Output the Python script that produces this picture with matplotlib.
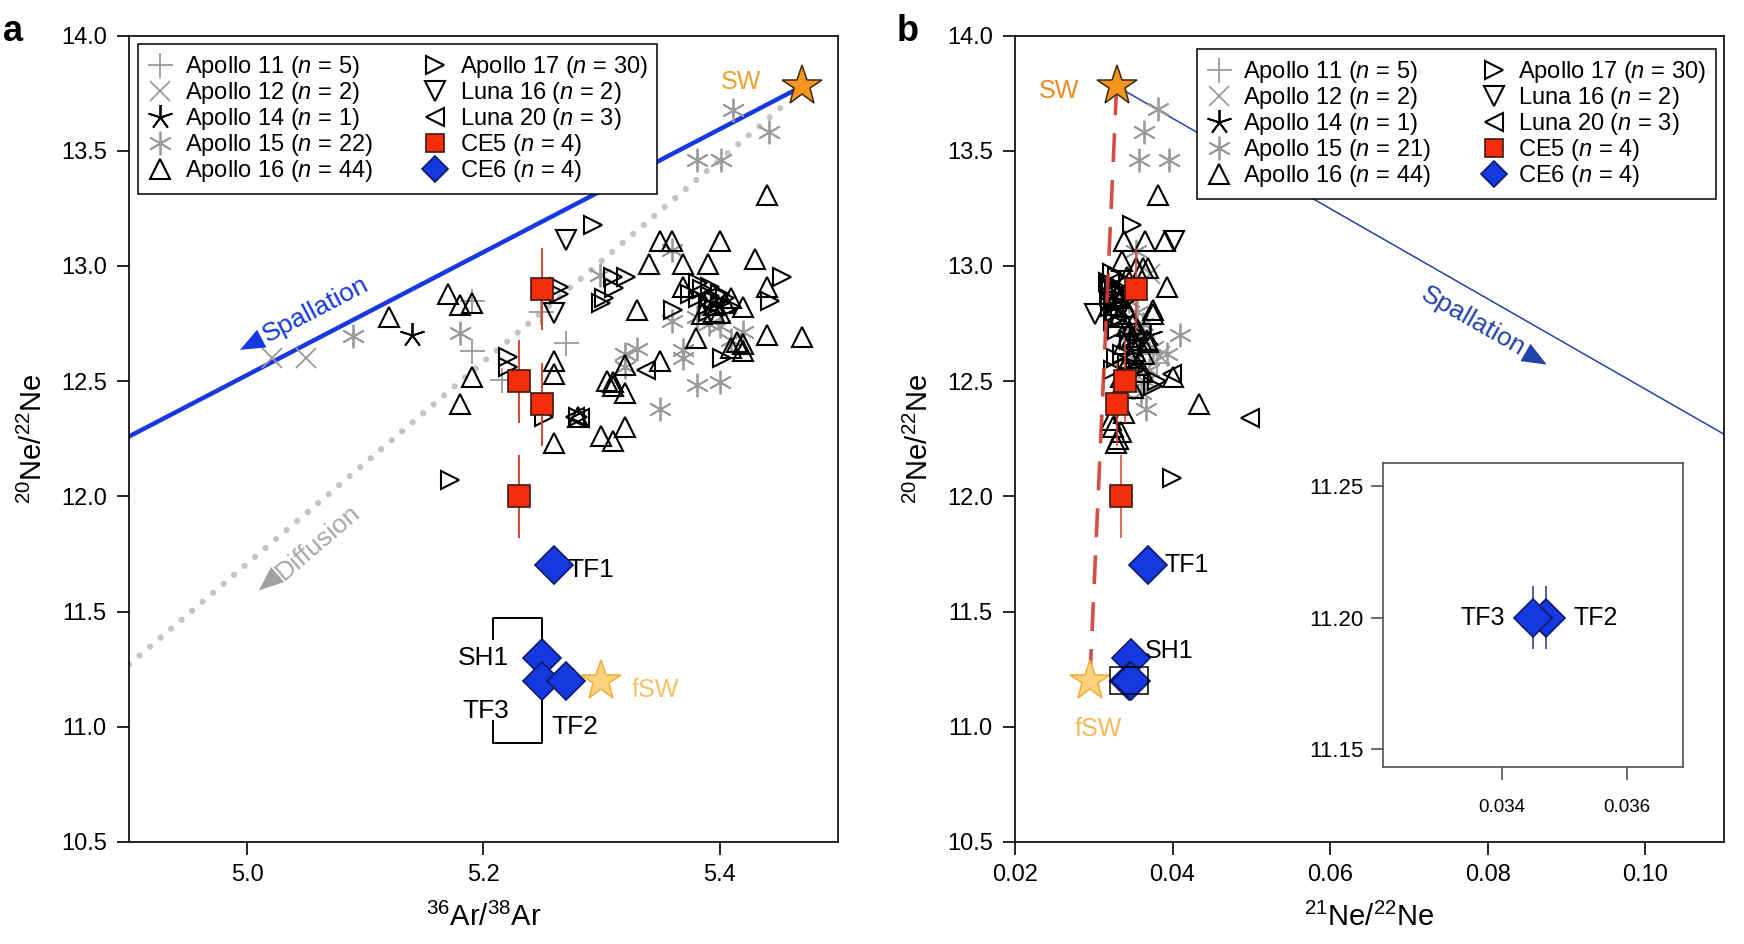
import numpy as np
import matplotlib
matplotlib.use("Agg")
import matplotlib.pyplot as plt
from matplotlib.patches import Rectangle

NARROW = ['Liberation Sans Narrow', 'DejaVu Sans Condensed', 'Liberation Sans', 'DejaVu Sans']
WIDE = ['Liberation Sans', 'DejaVu Sans']
plt.rcParams['font.family'] = NARROW
plt.rcParams['mathtext.fontset'] = 'custom'
plt.rcParams['mathtext.rm'] = 'Liberation Sans'
plt.rcParams['mathtext.it'] = 'Liberation Sans:italic'

# ---------------- data, panel a (36Ar/38Ar vs 20Ne/22Ne) ----------------
a11_x = [5.190, 5.190, 5.270, 5.249, 5.216]
a11_y = [12.85, 12.63, 12.665, 12.80, 12.505]
a12_x = [5.021, 5.050]
a12_y = [12.60, 12.60]
a14_x = [5.140]
a14_y = [12.70]
a15_x = [5.090, 5.180, 5.299, 5.360, 5.320, 5.320, 5.369, 5.369, 5.381, 5.400, 5.350,
         5.381, 5.391, 5.410, 5.420, 5.411, 5.442, 5.381, 5.401, 5.360, 5.400, 5.330]
a15_y = [12.696, 12.71, 12.961, 13.07, 12.62, 12.56, 12.635, 12.60, 12.483, 12.498, 12.378,
         12.78, 12.75, 12.679, 12.715, 13.677, 13.583, 13.46, 13.46, 12.76, 12.74, 12.64]
a16_x = [5.170, 5.180, 5.190, 5.120, 5.190, 5.180, 5.260, 5.260, 5.260, 5.330, 5.320,
         5.310, 5.310, 5.320, 5.300, 5.310, 5.320, 5.280, 5.440, 5.350, 5.360, 5.400,
         5.340, 5.369, 5.390, 5.430, 5.369, 5.440, 5.410, 5.420, 5.400, 5.395, 5.380,
         5.440, 5.470, 5.410, 5.420, 5.420, 5.350, 5.385, 5.395, 5.405, 5.415, 5.305]
a16_y = [12.88, 12.83, 12.84, 12.78, 12.52, 12.40, 12.589, 12.531, 12.23, 12.81, 12.57,
         12.498, 12.48, 12.45, 12.26, 12.24, 12.30, 12.343, 13.31, 13.11, 13.11, 13.11,
         13.01, 13.01, 13.01, 13.03, 12.91, 12.91, 12.86, 12.82, 12.795, 12.83, 12.686,
         12.70, 12.69, 12.643, 12.66, 12.63, 12.589, 12.79, 12.80, 12.84, 12.67, 12.50]
a17_x = [5.293, 5.264, 5.264, 5.310, 5.321, 5.311, 5.302, 5.221, 5.221, 5.251,
         5.280, 5.172, 5.453, 5.382, 5.392, 5.400, 5.382, 5.392, 5.400, 5.390,
         5.443, 5.361, 5.402, 5.385, 5.395, 5.405, 5.375, 5.300, 5.410, 5.390]
a17_y = [13.18, 12.907, 12.88, 12.951, 12.95, 12.905, 12.86, 12.606, 12.563, 12.346,
         12.343, 12.071, 12.95, 12.925, 12.91, 12.88, 12.86, 12.87, 12.838, 12.83,
         12.85, 12.81, 12.60, 12.90, 12.85, 12.86, 12.88, 12.84, 12.82, 12.80]
l16a_x = [5.270, 5.260]
l16a_y = [13.113, 12.795]
l20a_x = [5.338, 5.278, 5.282]
l20a_y = [12.549, 12.345, 12.340]
ce5a_x = [5.25, 5.23, 5.25, 5.23]
ce5a_y = [12.90, 12.50, 12.40, 12.00]
ce5a_err = [0.18, 0.18, 0.18, 0.18]
ce6_names = ['TF1', 'SH1', 'TF3', 'TF2']
ce6a_x = [5.26, 5.25, 5.25, 5.27]
ce6a_y = [11.70, 11.30, 11.20, 11.20]
sw_a = (5.47, 13.78)
fsw_a = (5.30, 11.20)
spall_a_x = [4.90, 5.47]
spall_a_y = [12.26, 13.78]
diff_a_x = [4.90, 5.455]
diff_a_y = [11.27, 13.70]

# ---------------- data, panel b (21Ne/22Ne vs 20Ne/22Ne) ----------------
b11_x = [0.0362, 0.0380, 0.0355, 0.0345, 0.0372]
b11_y = [12.63, 12.58, 12.70, 12.55, 12.62]
b12_x = [0.0371, 0.0384]
b12_y = [12.966, 12.61]
b14_x = [0.0372]
b14_y = [12.70]
b15_x = [0.0382, 0.0364, 0.0357, 0.0396, 0.0354, 0.0409, 0.0393, 0.0352, 0.0366, 0.0345, 0.0355,
         0.0362, 0.0350, 0.0370, 0.0358, 0.0340, 0.0348, 0.0365, 0.0375, 0.0360, 0.0344]
b15_y = [13.68, 13.58, 13.46, 13.46, 13.067, 12.70, 12.617, 12.73, 12.378, 12.85, 12.80,
         12.75, 12.60, 12.55, 12.66, 12.45, 12.52, 12.50, 12.65, 12.45, 12.70]
b16_x = [0.0382, 0.0338, 0.0365, 0.0390, 0.0336, 0.0354, 0.0363, 0.0369, 0.0393, 0.0375, 0.0375,
         0.0367, 0.0369, 0.0401, 0.0433, 0.0325, 0.0331, 0.0328, 0.0325, 0.0330, 0.0335, 0.0328,
         0.0340, 0.0345, 0.0332, 0.0350, 0.0342, 0.0356, 0.0348, 0.0360, 0.0338, 0.0352, 0.0364,
         0.0346, 0.0355, 0.0340, 0.0362, 0.0334, 0.0350, 0.0330, 0.0338, 0.0322, 0.0335, 0.0342]
b16_y = [13.31, 13.11, 13.11, 13.11, 13.02, 12.99, 12.99, 12.99, 12.907, 12.81, 12.79,
         12.68, 12.67, 12.516, 12.40, 12.30, 12.25, 12.23, 12.90, 12.87, 12.86, 12.83,
         12.82, 12.79, 12.78, 12.75, 12.74, 12.72, 12.69, 12.68, 12.66, 12.63, 12.62,
         12.60, 12.57, 12.56, 12.54, 12.52, 12.47, 12.44, 12.36, 12.33, 12.28, 12.95]
b17_x = [0.0348, 0.0399, 0.0318, 0.0322, 0.0326, 0.0319, 0.0324, 0.0330, 0.0321, 0.0327,
         0.0333, 0.0320, 0.0329, 0.0335, 0.0338, 0.0325, 0.0340, 0.0330, 0.0345, 0.0328,
         0.0336, 0.0342, 0.0325, 0.0352, 0.0338, 0.0358, 0.0343, 0.0375, 0.0380, 0.0323]
b17_y = [13.18, 12.08, 12.93, 12.91, 12.89, 12.87, 12.85, 12.84, 12.82, 12.80,
         12.78, 12.92, 12.95, 12.90, 12.88, 12.76, 12.85, 12.72, 12.68, 12.60,
         12.62, 12.58, 12.55, 12.55, 12.50, 12.70, 12.92, 12.48, 12.50, 12.97]
l16b_x = [0.0402, 0.0301]
l16b_y = [13.11, 12.79]
l20b_x = [0.0498, 0.0399, 0.0348]
l20b_y = [12.339, 12.53, 12.65]
ce5b_x = [0.0354, 0.0340, 0.0330, 0.0334]
ce5b_y = [12.90, 12.50, 12.40, 12.00]
ce5b_err = [0.18, 0.18, 0.18, 0.18]
ce6b_x = [0.0369, 0.0347, 0.0345, 0.0347]
ce6b_y = [11.70, 11.30, 11.20, 11.20]
ce6b_err = [0.012, 0.012, 0.012, 0.012]
sw_b = (0.0329, 13.78)
fsw_b = (0.0295, 11.20)
spall_b_x = [0.0329, 0.110]
spall_b_y = [13.78, 12.27]
inset_xlim = (0.0321, 0.0369)
inset_ylim = (11.143, 11.259)

group_names = ['Apollo 11', 'Apollo 12', 'Apollo 14', 'Apollo 15', 'Apollo 16',
               'Apollo 17', 'Luna 16', 'Luna 20', 'CE5', 'CE6']
n_a = [5, 2, 1, 22, 44, 30, 2, 3, 4, 4]
n_b = [5, 2, 1, 21, 44, 30, 2, 3, 4, 4]

GRAY = '#9a9a9a'
BLUE = '#1538e0'
BLUE_EDGE = '#0b1a66'
RED = '#f52d0a'
RED_EDGE = '#3d1a10'
STYLES = {
    'Apollo 11': dict(marker='+', color=GRAY, ms=18, mew=1.3, zorder=2),
    'Apollo 12': dict(marker='x', color=GRAY, ms=14, mew=1.3, zorder=2),
    'Apollo 14': dict(marker=(5, 2, 0), color='black', ms=18, mew=1.3, zorder=3),
    'Apollo 15': dict(marker=(6, 2, 0), color=GRAY, ms=17, mew=1.3, zorder=2),
    'Apollo 16': dict(marker='^', mfc='none', mec='black', ms=14, mew=1.5, zorder=3),
    'Apollo 17': dict(marker='>', mfc='none', mec='black', ms=13, mew=1.5, zorder=3),
    'Luna 16': dict(marker='v', mfc='none', mec='black', ms=14, mew=1.5, zorder=3),
    'Luna 20': dict(marker='<', mfc='none', mec='black', ms=13, mew=1.5, zorder=3),
    'CE5': dict(marker='s', mfc=RED, mec=RED_EDGE, ms=16, mew=1.2, zorder=6),
    'CE6': dict(marker='D', mfc=BLUE, mec=BLUE_EDGE, ms=19, mew=1.2, zorder=7),
}


def draw_groups(ax, groups, counts):
    handles = []
    for (name, gx, gy), n in zip(groups, counts):
        h, = ax.plot(gx, gy, ls='none', label=name + ' ($\\mathit{n}$ = %d)' % n, **STYLES[name])
        handles.append(h)
    return handles


def screen_angle(ax, xs, ys):
    (x0, y0), (x1, y1) = ax.transData.transform([(xs[0], ys[0]), (xs[1], ys[1])])
    return np.degrees(np.arctan2(y1 - y0, x1 - x0))


def arrow_head(ax, tip, dx, slope, color):
    # invisible shaft, only the filled head is drawn, pointing along the line
    back = (tip[0] + dx, tip[1] + dx * slope)
    ax.annotate('', xy=tip, xytext=back,
                arrowprops=dict(arrowstyle='-|>,head_length=1.1,head_width=0.45', color=color,
                                lw=0, shrinkA=0, shrinkB=0, mutation_scale=16))


def style_axis(ax):
    for s in ax.spines.values():
        s.set_linewidth(1.2)
    ax.tick_params(direction='out', length=9, width=1.2, labelsize=17, pad=7)


def make_legend(ax, handles, loc, anchor):
    leg = ax.legend(handles=handles, loc=loc, bbox_to_anchor=anchor, ncol=2,
                    fontsize=17, fancybox=False, edgecolor='black', framealpha=1, numpoints=1,
                    labelspacing=0.0, handlelength=1.0, handletextpad=0.55, columnspacing=2.15,
                    borderpad=0.42, borderaxespad=0)
    leg.get_frame().set_linewidth(1.1)
    leg.legend_handles[8].set_markersize(13)
    leg.legend_handles[9].set_markersize(13)
    return leg


fig = plt.figure(figsize=(17.44, 9.44), dpi=100)
ax_a = fig.add_axes([0.0740, 0.1081, 0.4063, 0.8542])
ax_b = fig.add_axes([0.5820, 0.1081, 0.4065, 0.8542])

# ---------------- panel a ----------------
ax_a.set_xlim(4.9, 5.5)
ax_a.set_ylim(10.5, 14.0)
style_axis(ax_a)
ax_a.set_xticks([5.0, 5.2, 5.4])
ax_a.set_yticks(np.arange(10.5, 14.01, 0.5))
ax_a.set_yticklabels(['%.1f' % v for v in np.arange(10.5, 14.01, 0.5)])
ax_a.set_xlabel('$^{36}$Ar/$^{38}$Ar', fontsize=21, labelpad=12)
ax_a.set_ylabel('$^{20}$Ne/$^{22}$Ne', fontsize=21, labelpad=9)

ax_a.plot(spall_a_x, spall_a_y, color=BLUE, lw=3.2, zorder=1)
ax_a.plot(diff_a_x, diff_a_y, color='#c4c4c4', lw=4.5, ls=(0, (0.01, 2.2)),
          dash_capstyle='round', zorder=1)

ax_a.errorbar(ce5a_x, ce5a_y, yerr=ce5a_err, fmt='none', ecolor='#d8452f', elinewidth=1.4, zorder=5)
groups_a = [('Apollo 11', a11_x, a11_y), ('Apollo 12', a12_x, a12_y), ('Apollo 14', a14_x, a14_y),
            ('Apollo 15', a15_x, a15_y), ('Apollo 16', a16_x, a16_y), ('Apollo 17', a17_x, a17_y),
            ('Luna 16', l16a_x, l16a_y), ('Luna 20', l20a_x, l20a_y), ('CE5', ce5a_x, ce5a_y),
            ('CE6', ce6a_x, ce6a_y)]
handles_a = draw_groups(ax_a, groups_a, n_a)

ax_a.plot(*sw_a, marker='*', ms=30, mfc='#f7941d', mec='#3a2a10', mew=1.1, zorder=8)
ax_a.plot(*fsw_a, marker='*', ms=30, mfc='#fdd27a', mec='#f0ac3c', mew=1.1, zorder=8)
ax_a.text(sw_a[0] - 0.052, sw_a[1] + 0.02, 'SW', color='#f0a030', fontsize=18, family=WIDE,
          ha='center', va='center')
ax_a.text(fsw_a[0] + 0.046, fsw_a[1] - 0.04, 'fSW', color='#f5c069', fontsize=18, family=WIDE,
          ha='center', va='center')

# CE6 sample labels and bracket
ax_a.text(ce6a_x[0] + 0.011, ce6a_y[0] - 0.02, 'TF1', fontsize=19, ha='left', va='center')
ax_a.text(5.222, 11.30, 'SH1', fontsize=19, ha='right', va='center')
ax_a.text(5.222, 11.07, 'TF3', fontsize=19, ha='right', va='center')
ax_a.text(5.258, 11.00, 'TF2', fontsize=19, ha='left', va='center')
ax_a.plot([5.208, 5.208, 5.25, 5.25], [11.38, 11.474, 11.474, 11.38], color='black', lw=1.4, zorder=4)
ax_a.plot([5.208, 5.208, 5.25, 5.25], [11.027, 10.93, 10.93, 11.13], color='black', lw=1.4, zorder=4)

ang = screen_angle(ax_a, spall_a_x, spall_a_y)
ax_a.text(5.058, 12.81, 'Spallation', color=BLUE, fontsize=19, family=WIDE, rotation=ang,
          rotation_mode='anchor', ha='center', va='center')
arrow_head(ax_a, (4.994, 12.636), 0.03, 2.667, BLUE)
ang = screen_angle(ax_a, diff_a_x, diff_a_y)
ax_a.text(5.060, 11.80, 'Diffusion', color='#a8a8a8', fontsize=19, family=WIDE, rotation=ang,
          rotation_mode='anchor', ha='center', va='center')
arrow_head(ax_a, (5.010, 11.592), 0.02, 4.38, '#a0a0a0')

make_legend(ax_a, handles_a, 'upper left', (0.0127, 0.989))

# ---------------- panel b ----------------
ax_b.set_xlim(0.02, 0.11)
ax_b.set_ylim(10.5, 14.0)
style_axis(ax_b)
ax_b.set_xticks([0.02, 0.04, 0.06, 0.08, 0.10])
ax_b.set_xticklabels(['0.02', '0.04', '0.06', '0.08', '0.10'])
ax_b.set_yticks(np.arange(10.5, 14.01, 0.5))
ax_b.set_yticklabels(['%.1f' % v for v in np.arange(10.5, 14.01, 0.5)])
ax_b.set_xlabel('$^{21}$Ne/$^{22}$Ne', fontsize=21, labelpad=12)
ax_b.set_ylabel('$^{20}$Ne/$^{22}$Ne', fontsize=21, labelpad=9)

ax_b.plot(spall_b_x, spall_b_y, color='#2244aa', lw=1.1, zorder=1)
ax_b.plot([sw_b[0], fsw_b[0]], [sw_b[1], fsw_b[1]], color='#d23c30', lw=2.6,
          dashes=(8, 5), alpha=0.9, zorder=4)

ax_b.errorbar(ce5b_x, ce5b_y, yerr=ce5b_err, fmt='none', ecolor='#d8452f', elinewidth=1.4,
              alpha=0.8, zorder=5)
groups_b = [('Apollo 11', b11_x, b11_y), ('Apollo 12', b12_x, b12_y), ('Apollo 14', b14_x, b14_y),
            ('Apollo 15', b15_x, b15_y), ('Apollo 16', b16_x, b16_y), ('Apollo 17', b17_x, b17_y),
            ('Luna 16', l16b_x, l16b_y), ('Luna 20', l20b_x, l20b_y), ('CE5', ce5b_x, ce5b_y),
            ('CE6', ce6b_x, ce6b_y)]
handles_b = draw_groups(ax_b, groups_b, n_b)

ax_b.plot(*sw_b, marker='*', ms=30, mfc='#f7941d', mec='#3a2a10', mew=1.1, zorder=8)
ax_b.plot(*fsw_b, marker='*', ms=30, mfc='#fdd27a', mec='#f0ac3c', mew=1.1, zorder=8)
ax_b.text(sw_b[0] - 0.0073, sw_b[1] - 0.02, 'SW', color='#f08a20', fontsize=18, family=WIDE,
          ha='center', va='center')
ax_b.text(fsw_b[0] + 0.0011, fsw_b[1] - 0.21, 'fSW', color='#f5b85a', fontsize=18, family=WIDE,
          ha='center', va='center')
ax_b.text(ce6b_x[0] + 0.0021, ce6b_y[0], 'TF1', fontsize=18, family=WIDE, ha='left', va='center')
ax_b.text(ce6b_x[1] + 0.0018, ce6b_y[1] + 0.03, 'SH1', fontsize=18, family=WIDE, ha='left', va='center')
ax_b.add_patch(Rectangle((inset_xlim[0], inset_ylim[0]), inset_xlim[1] - inset_xlim[0],
                         inset_ylim[1] - inset_ylim[0], fill=False, ec='black', lw=1.1, zorder=9))

ang = screen_angle(ax_b, spall_b_x, spall_b_y)
ax_b.text(0.0782, 12.76, 'Spallation', color='#2244aa', fontsize=19, family=WIDE, rotation=ang,
          rotation_mode='anchor', ha='center', va='center')
arrow_head(ax_b, (0.0875, 12.572), -0.003, -19.58, '#2244aa')

make_legend(ax_b, handles_b, 'upper right', (0.989, 0.983))

# ---------------- inset ----------------
ax_in = fig.add_axes([0.7932, 0.1872, 0.1720, 0.3227])
ax_in.set_xlim(*inset_xlim)
ax_in.set_ylim(*inset_ylim)
for s in ax_in.spines.values():
    s.set_linewidth(1.1)
    s.set_color('#444444')
ax_in.tick_params(direction='out', length=9, width=1.1, color='#444444')
ax_in.tick_params(axis='y', labelsize=16, pad=5)
ax_in.tick_params(axis='x', labelsize=13.5, pad=14)
ax_in.set_xticks([0.034, 0.036])
ax_in.set_xticklabels(['0.034', '0.036'], family=WIDE)
ax_in.set_yticks([11.15, 11.20, 11.25])
ax_in.set_yticklabels(['11.15', '11.20', '11.25'], family=WIDE)
ax_in.errorbar(ce6b_x[2:], ce6b_y[2:], yerr=ce6b_err[2:], fmt='none', ecolor='#33449a',
               elinewidth=1.2, zorder=2)
ax_in.plot(ce6b_x[3:], ce6b_y[3:], ls='none', **STYLES['CE6'])
ax_in.plot(ce6b_x[2:3], ce6b_y[2:3], ls='none', **STYLES['CE6'])
ax_in.text(ce6b_x[2] - 0.00045, ce6b_y[2], 'TF3', fontsize=18, family=WIDE, ha='right', va='center')
ax_in.text(ce6b_x[3] + 0.00045, ce6b_y[3], 'TF2', fontsize=18, family=WIDE, ha='left', va='center')

fig.text(0.002, 0.985, 'a', fontsize=26, fontweight='bold', family=WIDE, va='top')
fig.text(0.514, 0.985, 'b', fontsize=26, fontweight='bold', family=WIDE, va='top')

fig.savefig('out.png', dpi=100)
